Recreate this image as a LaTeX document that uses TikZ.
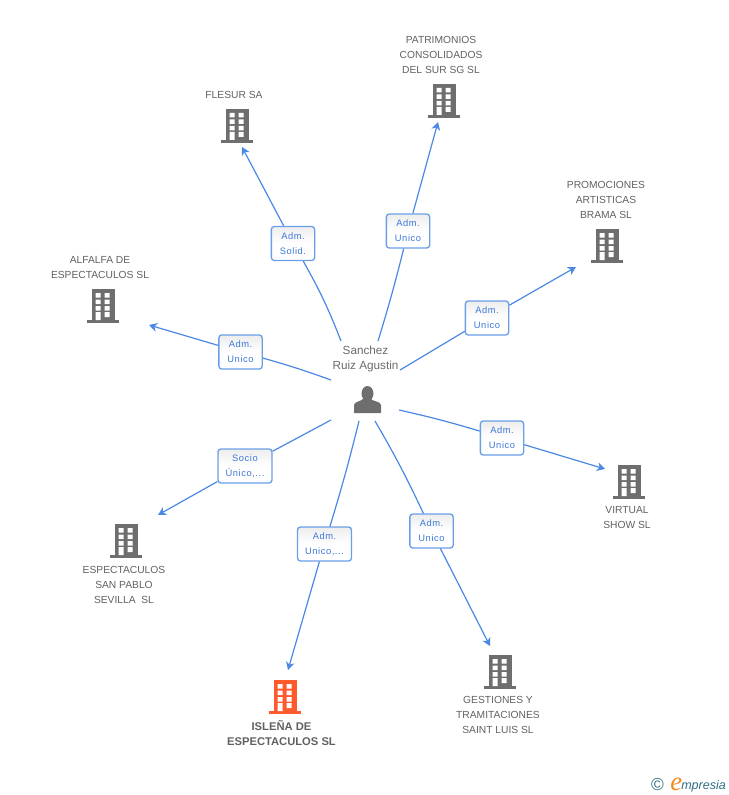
\documentclass[tikz,border=0pt]{standalone}
\usepackage{fontspec}
\usetikzlibrary{arrows.meta}
\setmainfont{Liberation Sans}
\newfontfamily\rolefont[LetterSpace=6]{Liberation Sans}
\newfontfamily\logofont{Liberation Serif}
\definecolor{linkblue}{HTML}{4A88E4}
\definecolor{boxblue}{HTML}{6A9FE8}
\definecolor{roletext}{HTML}{3C78D8}
\definecolor{bldggray}{HTML}{6E6E6E}
\definecolor{bldgred}{HTML}{FF5A2C}
\definecolor{logoteal}{HTML}{2F6F86}
\definecolor{logoorange}{HTML}{F28A1E}
\tikzset{
	link/.style={thin,linkblue,line width=0.9pt},
	linkend/.style={link,-{Stealth[length=6pt,width=6.5pt,inset=1.8pt]}},
	rolebox/.style={draw=boxblue,line width=1pt,rounded corners=2.2pt,top color=black!7,bottom color=white,middle color=white,
		minimum height=25.5pt,inner sep=0pt,align=center,text=roletext,font=\rolefont\fontsize{7}{11.25}\selectfont},
	firm/.style={align=center,inner sep=0pt,text=black!62,font=\fontsize{7.7}{11.25}\selectfont},
	pics/bldg/.style={code={
		\fill[#1] (-11.5,-34) rectangle (11.5,-1);
		\fill[#1] (-16,-3) rectangle (16,0);
		\fill[white] (-7.5,-30) rectangle (-2.5,-25.5) (1.5,-30) rectangle (6.5,-25.5);
		\fill[white] (-7.5,-23.5) rectangle (-2.5,-19) (1.5,-23.5) rectangle (6.5,-19);
		\fill[white] (-7.5,-17) rectangle (-2.5,-12.5) (1.5,-17) rectangle (6.5,-12.5);
		\fill[white] (-7.5,-11) rectangle (-2.5,-3) (1.5,-11) rectangle (6.5,-6);
	}}
}
\begin{document}
\begin{tikzpicture}[x=0.75pt,y=-0.75pt]
	\useasboundingbox (0,0) rectangle (728,795);
	
	% person in the middle
	\node[inner sep=0pt,align=center,text=black!58,font=\fontsize{8.8}{11.25}\selectfont] (Person) at (365.5,359) {Sanchez\\Ruiz Agustin};
	\fill[bldggray] (354,413) -- (354,405) .. controls (355,401) and (360,402) .. (363,399) -- (371,399) .. controls (374,402) and (380,401) .. (381,405) -- (381,413) --cycle;
	\fill[bldggray] (367.5,393.5) ellipse (6 and 7.5);
	
	% the firms
	\pic at (237,143) {bldg=bldggray};
	\pic at (444,118) {bldg=bldggray};
	\pic at (607,263) {bldg=bldggray};
	\pic at (103,323) {bldg=bldggray};
	\pic at (629,499) {bldg=bldggray};
	\pic at (126,558) {bldg=bldggray};
	\pic at (285,714) {bldg=bldgred};
	\pic at (500,689) {bldg=bldggray};
	\node[firm] (Flesur) at (234,95) {FLESUR SA};
	\node[firm] (Patrimonios) at (441,55) {PATRIMONIOS\\CONSOLIDADOS\\DEL SUR SG SL};
	\node[firm] (Promociones) at (606,200) {PROMOCIONES\\ARTISTICAS\\BRAMA SL};
	\node[firm] (Alfalfa) at (100,268) {ALFALFA DE\\ESPECTACULOS SL};
	\node[firm] (Virtual) at (627,518) {VIRTUAL\\SHOW SL};
	\node[firm] (SanPablo) at (124,585) {ESPECTACULOS\\SAN PABLO\\SEVILLA\ \ SL};
	\node[firm,font=\bfseries\fontsize{8.4}{11.25}\selectfont] (Islena) at (281.5,733) {ISLEÑA DE\\ESPECTACULOS SL};
	\node[firm] (Gestiones) at (498,715) {GESTIONES Y\\TRAMITACIONES\\SAINT LUIS SL};
	
	% roles
	\node[rolebox,minimum width=32.5pt] (RoleFlesur) at (293,243.5) {Adm.\\Solid.};
	\node[rolebox,minimum width=32.5pt] (RolePatrimonios) at (408,231) {Adm.\\Unico};
	\node[rolebox,minimum width=32.5pt] (RolePromociones) at (487,318) {Adm.\\Unico};
	\node[rolebox,minimum width=32.5pt] (RoleAlfalfa) at (240.5,352) {Adm.\\Unico};
	\node[rolebox,minimum width=32.5pt] (RoleVirtual) at (502,438) {Adm.\\Unico};
	\node[rolebox,minimum width=40.5pt] (RoleSanPablo) at (245,466) {Socio\\Único,...};
	\node[rolebox,minimum width=40.5pt] (RoleIslena) at (324.5,544) {Adm.\\Unico,...};
	\node[rolebox,minimum width=32.5pt] (RoleGestiones) at (431.5,531) {Adm.\\Unico};
	
	% free ends of the links
	\coordinate (FromFlesur) at (341,341);
	\coordinate (FromPatrimonios) at (378,341);
	\coordinate (FromPromociones) at (400,370);
	\coordinate (FromAlfalfa) at (331,380);
	\coordinate (FromVirtual) at (399,410);
	\coordinate (FromSanPablo) at (331,420);
	\coordinate (FromIslena) at (359,421);
	\coordinate (FromGestiones) at (375,421);
	\coordinate (ToFlesur) at (242,147);
	\coordinate (ToPatrimonios) at (438,122);
	\coordinate (ToPromociones) at (576,267);
	\coordinate (ToAlfalfa) at (149,325);
	\coordinate (ToVirtual) at (605,469);
	\coordinate (ToSanPablo) at (158,515);
	\coordinate (ToIslena) at (288,670);
	\coordinate (ToGestiones) at (490,646);
	
	\draw[link] (FromFlesur) to[bend right=4] (RoleFlesur);
	\draw[linkend] (RoleFlesur) -- (ToFlesur);
	\draw[link] (FromPatrimonios) to[bend right=1.5] (RolePatrimonios);
	\draw[linkend] (RolePatrimonios) -- (ToPatrimonios);
	\draw[link] (FromPromociones) -- (RolePromociones);
	\draw[linkend] (RolePromociones) -- (ToPromociones);
	\draw[link] (FromAlfalfa) to[bend right=2] (RoleAlfalfa);
	\draw[linkend] (RoleAlfalfa) -- (ToAlfalfa);
	\draw[link] (FromVirtual) to[bend left=2] (RoleVirtual);
	\draw[linkend] (RoleVirtual) -- (ToVirtual);
	\draw[link] (FromSanPablo) -- (RoleSanPablo);
	\draw[linkend] (RoleSanPablo) -- (ToSanPablo);
	\draw[link] (FromIslena) to[bend left=1.5] (RoleIslena);
	\draw[linkend] (RoleIslena) -- (ToIslena);
	\draw[link] (FromGestiones) to[bend left=2.5] (RoleGestiones);
	\draw[linkend] (RoleGestiones) -- (ToGestiones);
	
	% logo bottom right
	\node[inner sep=0pt,text=logoteal,font=\fontsize{13}{14}\selectfont] (LogoC) at (657.5,784.5) {©};
	\node[inner sep=0pt,anchor=base west,text=logoorange,font=\logofont\itshape\fontsize{20}{20}\selectfont] (LogoE) at (670,790) {e};
	\node[inner sep=0pt,anchor=base west,text=logoteal,font=\itshape\fontsize{9.4}{10}\selectfont] (LogoName) at (681,789) {mpresia};
\end{tikzpicture}
\end{document}
